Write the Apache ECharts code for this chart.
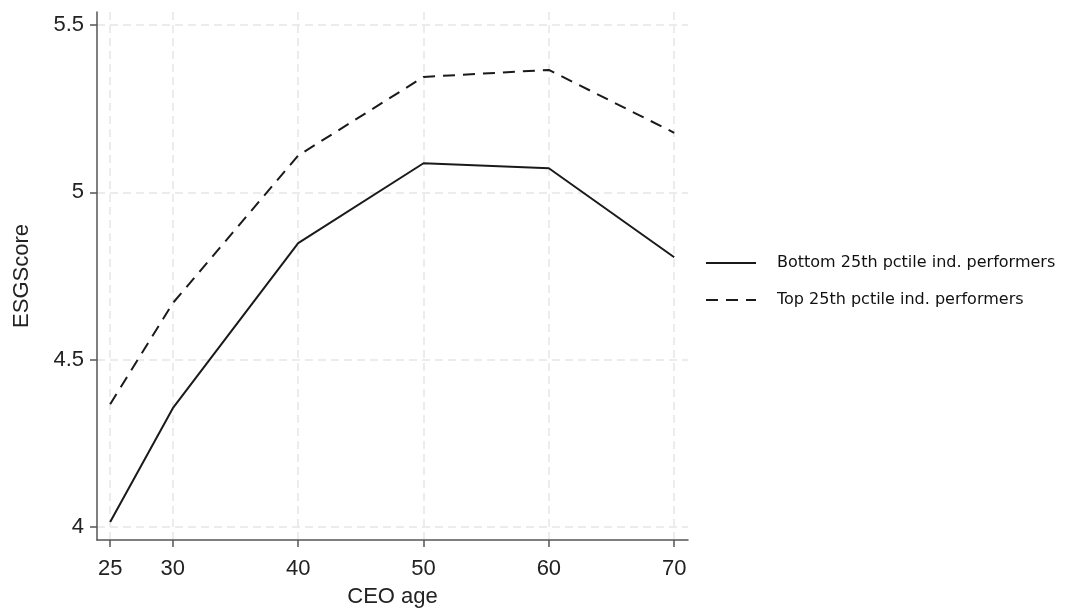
<!DOCTYPE html>
<html>
<head>
<meta charset="utf-8">
<script src="https://cdn.jsdelivr.net/npm/echarts@6/dist/echarts.min.js"></script>
<style>html,body{margin:0;padding:0;background:#fff;}#c{width:1070px;height:609px;}</style>
</head>
<body>
<div id="c"></div>
<script>
const ages = [25, 30, 40, 50, 60, 70];
const bottomVals = [4.015, 4.355, 4.848, 5.087, 5.072, 4.806];
const topVals = [4.367, 4.669, 5.110, 5.345, 5.366, 5.178];
const xTicks = [25, 30, 40, 50, 60, 70];
const yTicks = [4, 4.5, 5, 5.5];
const seriesNames = ['Bottom 25th pctile ind. performers', 'Top 25th pctile ind. performers'];

const chart = echarts.init(document.getElementById('c'), null, {renderer: 'canvas'});
const axisFont = {fontFamily: 'Liberation Sans, Arial, sans-serif', fontSize: 22, color: '#222'};
const grid = {show: true, lineStyle: {color: '#e6e6e6', type: [8, 5], width: 1.5}};

chart.setOption({
  animation: false,
  backgroundColor: '#fff',
  grid: {left: 97, right: 382, top: 12, bottom: 69, containLabel: false, outerBoundsMode: 'none'},
  xAxis: {
    type: 'value', min: 23.95, max: 71.1,
    name: 'CEO age', nameLocation: 'middle', nameGap: 46,
    nameTextStyle: axisFont,
    axisLine: {show: true, onZero: false, lineStyle: {color: '#555', width: 1.5}},
    axisTick: {show: true, length: 7, lineStyle: {color: '#555', width: 1.5},
      customValues: xTicks},
    axisLabel: Object.assign({margin: 18, customValues: xTicks, formatter: v => String(v)}, axisFont),
    splitLine: grid,
    interval: 5
  },
  yAxis: {
    type: 'value', min: 3.961, max: 5.539,
    name: 'ESGScore', nameLocation: 'middle', nameGap: 64,
    nameTextStyle: axisFont,
    axisLine: {show: true, lineStyle: {color: '#555', width: 1.5}},
    axisTick: {show: true, length: 7, lineStyle: {color: '#555', width: 1.5}, customValues: yTicks},
    axisLabel: Object.assign({margin: 13, customValues: yTicks, formatter: v => String(v)}, axisFont),
    splitLine: grid
  },
  legend: {
    orient: 'vertical', left: 700, top: 250, itemWidth: 50, itemHeight: 14, itemGap: 21,
    textStyle: {fontFamily: 'DejaVu Sans, Verdana, sans-serif', fontSize: 16, color: '#111', padding: [0, 0, 0, 16]},
    itemStyle: {color: 'rgba(0,0,0,0)', borderWidth: 0},
    data: seriesNames
  },
  series: [
    {name: seriesNames[0], type: 'line', symbol: 'none',
     data: ages.map((a, i) => [a, bottomVals[i]]),
     lineStyle: {color: '#1a1a1a', width: 2, type: 'solid'}, itemStyle: {color: '#1a1a1a'}},
    {name: seriesNames[1], type: 'line', symbol: 'none',
     data: ages.map((a, i) => [a, topVals[i]]),
     lineStyle: {color: '#1a1a1a', width: 2, type: [12, 8]}, itemStyle: {color: '#1a1a1a'}}
  ]
});
</script>
</body>
</html>
